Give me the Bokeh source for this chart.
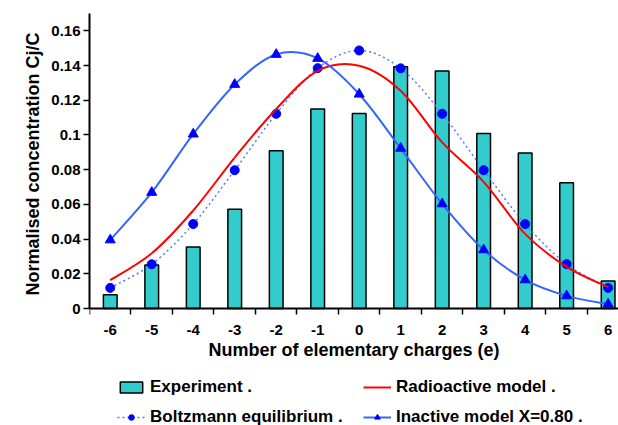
from bokeh.plotting import figure
from bokeh.models import FixedTicker, Legend, LegendItem, Range1d, Title
from bokeh.embed import file_html
from bokeh.resources import INLINE

# ---- data ----
charges = [-6, -5, -4, -3, -2, -1, 0, 1, 2, 3, 4, 5, 6]
experiment = [0.0079, 0.0251, 0.0355, 0.0572, 0.0909, 0.1149, 0.1124,
              0.1393, 0.1368, 0.1009, 0.0896, 0.0725, 0.0159]
radioactive = [0.0163, 0.0318, 0.0565, 0.0870, 0.1150, 0.1370, 0.1399,
               0.1255, 0.0957, 0.0730, 0.0430, 0.0240, 0.0123]
boltzmann = [0.0119, 0.0255, 0.0487, 0.0797, 0.1122, 0.1385, 0.1487,
             0.1384, 0.1122, 0.0797, 0.0487, 0.0256, 0.0119]
inactive = [0.0395, 0.0669, 0.1005, 0.1291, 0.1464, 0.1441, 0.1235,
            0.0923, 0.0603, 0.0338, 0.0165, 0.0073, 0.0025]
y_ticks = [0, 0.02, 0.04, 0.06, 0.08, 0.10, 0.12, 0.14, 0.16]
y_tick_labels = ["0", "0.02", "0.04", "0.06", "0.08", "0.1", "0.12", "0.14", "0.16"]
x_tick_labels = [str(c) for c in charges]
x_bounds = [c - 0.5 for c in charges] + [charges[-1] + 0.5]
Y_MAX = 0.17

FONT = "Liberation Sans"


def smooth(xs, ys):
    """Cubic Bezier segments through the points (Excel-like smoothed line)."""
    n = len(xs)
    d = dict(x0=[], y0=[], x1=[], y1=[], cx0=[], cy0=[], cx1=[], cy1=[])
    for i in range(n - 1):
        xm, ym = (xs[i - 1], ys[i - 1]) if i > 0 else (xs[i], ys[i])
        xp, yp = (xs[i + 2], ys[i + 2]) if i + 2 < n else (xs[i + 1], ys[i + 1])
        d["x0"].append(xs[i]); d["y0"].append(ys[i])
        d["x1"].append(xs[i + 1]); d["y1"].append(ys[i + 1])
        d["cx0"].append(xs[i] + (xs[i + 1] - xm) / 6)
        d["cy0"].append(ys[i] + (ys[i + 1] - ym) / 6)
        d["cx1"].append(xs[i + 1] - (xp - xs[i]) / 6)
        d["cy1"].append(ys[i + 1] - (yp - ys[i]) / 6)
    return d


# the frame runs down to the bottom of the page so the legend can sit under the axes
p = figure(width=618, height=425, output_backend="svg", toolbar_location=None,
           x_range=Range1d(-6.5, 6.25), y_range=Range1d(-0.0674, Y_MAX),
           min_border_left=89, min_border_right=0, min_border_top=13,
           min_border_bottom=0)
p.outline_line_color = None
p.xgrid.visible = False
p.ygrid.visible = False

bars = p.vbar(x=charges, top=experiment, width=0.33, fill_color="#33CCCC",
              line_color="black", line_width=1.5)

b_line = p.bezier(line_color="#4d7fff", line_width=1.5, line_dash="2 3",
                  **smooth(charges, boltzmann))
b_pts = p.scatter(charges, boltzmann, marker="circle", size=9,
                  fill_color="#0000FF", line_color="#0000FF")

r_line = p.bezier(line_color="#FF0000", line_width=2, **smooth(charges, radioactive))

i_line = p.bezier(line_color="#3366FF", line_width=2, **smooth(charges, inactive))
i_pts = p.scatter(charges, inactive, marker="triangle", size=10,
                  fill_color="#0000FF", line_color="#0000FF")

# axes
xa = p.xaxis[0]
xa.fixed_location = 0
xa.ticker = FixedTicker(ticks=charges, minor_ticks=x_bounds)
xa.major_label_overrides = {c: l for c, l in zip(charges, x_tick_labels)}
xa.major_tick_out = 0
xa.major_tick_in = 0
xa.minor_tick_out = 6
xa.minor_tick_in = 0
xa.minor_tick_line_color = "black"
xa.minor_tick_line_width = 1.5
xa.major_label_standoff = 10
xa.axis_label = "Number of elementary charges (e)"
xa.axis_label_standoff = 2

ya = p.yaxis[0]
ya.bounds = (0, Y_MAX)
ya.ticker = FixedTicker(ticks=y_ticks)
ya.major_label_overrides = {t: l for t, l in zip(y_ticks, y_tick_labels)}
ya.major_tick_out = 6
ya.major_tick_in = 0
ya.minor_tick_line_color = None
ya.major_label_standoff = 3

for ax in (xa, ya):
    ax.axis_line_color = "black"
    ax.axis_line_width = 2
    ax.major_tick_line_color = "black"
    ax.major_tick_line_width = 1.5
    ax.major_label_text_font = FONT
    ax.major_label_text_font_style = "bold"
    ax.major_label_text_font_size = "15px"
    ax.major_label_text_color = "black"
    ax.axis_label_text_font = FONT
    ax.axis_label_text_font_style = "bold"
    ax.axis_label_text_font_size = "18px"
    ax.axis_label_text_color = "black"
xa.major_tick_line_color = None

# y-axis title placed along the axis line (0 .. Y_MAX), not the whole frame
y_title = Title(text="Normalised concentration  Cj/C", align="left", offset=130,
                standoff=12, text_font=FONT, text_font_style="bold",
                text_font_size="18px", text_color="black")
p.add_layout(y_title, "left")

legend = Legend(items=[
    LegendItem(label="Experiment .", renderers=[bars]),
    LegendItem(label="Radioactive model .", renderers=[r_line]),
    LegendItem(label="Boltzmann equilibrium .", renderers=[b_line, b_pts]),
    LegendItem(label="Inactive model X=0.80 .", renderers=[i_line, i_pts]),
], orientation="horizontal", ncols=2, location=(28, -2), margin=0, padding=0,
    border_line_color=None, background_fill_alpha=0,
    glyph_width=28, glyph_height=14, label_height=20, label_width=203,
    spacing=10, label_standoff=5,
    label_text_font=FONT, label_text_font_style="bold",
    label_text_font_size="17px", label_text_color="black")
p.add_layout(legend, "center")

open("out.html", "w").write(file_html(p, INLINE))
